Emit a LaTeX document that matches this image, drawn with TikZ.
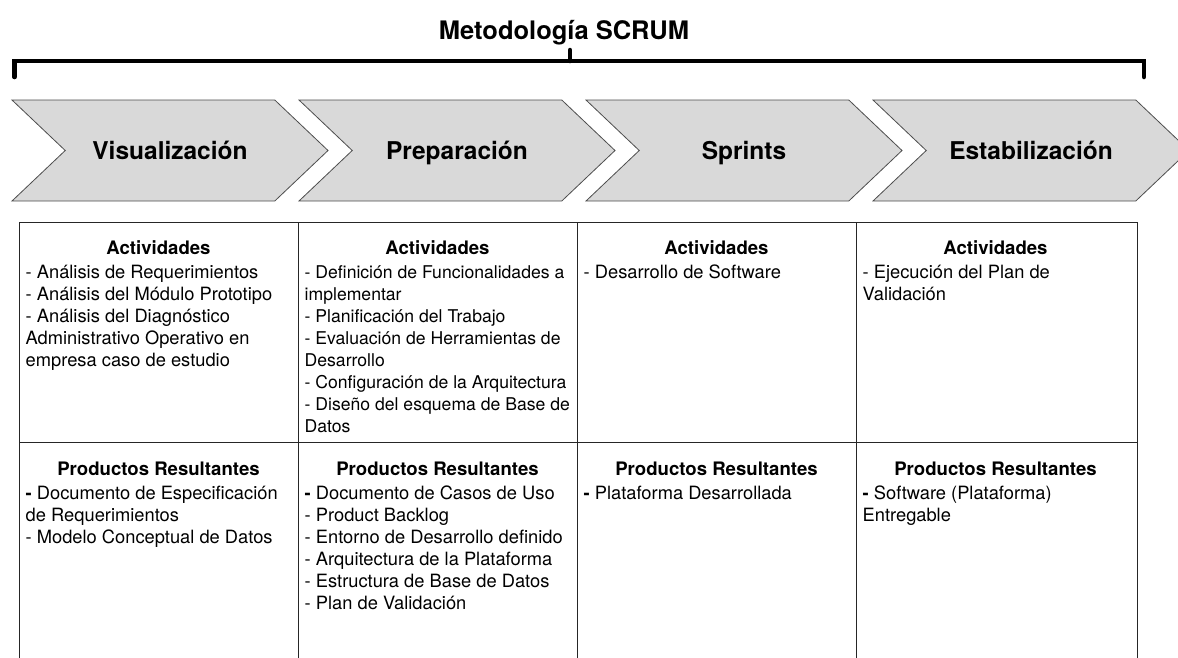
\documentclass[tikz,border=0pt]{standalone}
\usepackage{fontspec}
\setmainfont{TeX Gyre Heros}
\usepackage{xcolor}
\usepackage{tikz}
\usetikzlibrary{shapes.symbols, positioning}
\definecolor{chevfill}{HTML}{D9D9D9}
\definecolor{chevline}{HTML}{4D4D4D}
\tikzstyle{phase} = [signal, signal from=west, signal to=east, signal pointer angle=87, minimum width=316pt, minimum height=101pt, inner sep=0pt, text height=17.6pt, text depth=0pt, draw=chevline, fill=chevfill, line width=0.8pt, font=\fontsize{24.5}{29}\selectfont\bfseries]
\tikzstyle{cellhead} = [anchor=base, inner sep=0pt, font=\fontsize{18.6}{22}\selectfont\bfseries]
\tikzstyle{celltext} = [anchor=north west, inner sep=0pt, align=left, font=\fontsize{18.3}{22}\selectfont]
\tikzstyle{tableline} = [line width=0.8pt, draw=black!85]
\tikzstyle{bracket} = [line width=4.5pt, line cap=round]
\newcommand{\firstln}{\rule{0pt}{18pt}}

\begin{document}
\begin{tikzpicture}[x=1pt, y=-1pt]
    \useasboundingbox (0,0) rectangle (1178,657);

    % Title and bracket
    \node[anchor=base, inner sep=0pt, font=\fontsize{25.5}{30}\selectfont\bfseries] (title) at (564,39) {Metodología SCRUM};
    \draw[bracket] (14.5,77) -- (14.5,61) -- (1144,61) -- (1144,77);
    \draw[bracket] (570,61) -- (570,50);

    % Phases
    \node[phase] (vis) at (170,150.5) {Visualización};
    \node[phase] (prep) at (457,150.5) {Preparación};
    \node[phase] (sprint) at (744,150.5) {Sprints};
    \node[phase] (estab) at (1031,150.5) {Estabilización};

    % Table
    \draw[tableline] (19,222) -- (1137,222);
    \draw[tableline] (19,442) -- (1137,442);
    \draw[tableline] (19,222) -- (19,660);
    \draw[tableline] (298,222) -- (298,660);
    \draw[tableline] (577,222) -- (577,660);
    \draw[tableline] (856,222) -- (856,660);
    \draw[tableline] (1137,222) -- (1137,660);

    % Activities
    \node[cellhead] (visacth) at (158.5,254) {Actividades};
    \node[celltext] (visact) at (25.5,260) {\firstln- Análisis de Requerimientos\\- Análisis del Módulo Prototipo\\- Análisis del Diagnóstico\\Administrativo Operativo en\\empresa caso de estudio};
    \node[cellhead] (prepacth) at (437.5,254) {Actividades};
    \node[celltext, font=\fontsize{17.6}{22}\selectfont] (prepact) at (304.5,260) {\firstln- Definición de Funcionalidades a\\implementar\\- Planificación del Trabajo\\- Evaluación de Herramientas de\\Desarrollo\\- Configuración de la Arquitectura\\- Diseño del esquema de Base de\\Datos};
    \node[cellhead] (sprintacth) at (716.5,254) {Actividades};
    \node[celltext] (sprintact) at (583.5,260) {\firstln- Desarrollo de Software};
    \node[cellhead] (estabacth) at (995.5,254) {Actividades};
    \node[celltext] (estabact) at (862.5,260) {\firstln- Ejecución del Plan de\\Validación};

    % Products
    \node[cellhead] (visprodh) at (158.5,475) {Productos Resultantes};
    \node[celltext] (visprod) at (25.5,481) {\firstln\textbf{-} Documento de Especificación\\de Requerimientos\\- Modelo Conceptual de Datos};
    \node[cellhead] (prepprodh) at (437.5,475) {Productos Resultantes};
    \node[celltext] (prepprod) at (304.5,481) {\firstln\textbf{-} Documento de Casos de Uso\\- Product Backlog\\- Entorno de Desarrollo definido\\- Arquitectura de la Plataforma\\- Estructura de Base de Datos\\- Plan de Validación};
    \node[cellhead] (sprintprodh) at (716.5,475) {Productos Resultantes};
    \node[celltext] (sprintprod) at (583.5,481) {\firstln\textbf{-} Plataforma Desarrollada};
    \node[cellhead] (estabprodh) at (995.5,475) {Productos Resultantes};
    \node[celltext] (estabprod) at (862.5,481) {\firstln\textbf{-} Software (Plataforma)\\Entregable};

\end{tikzpicture}
\end{document}
